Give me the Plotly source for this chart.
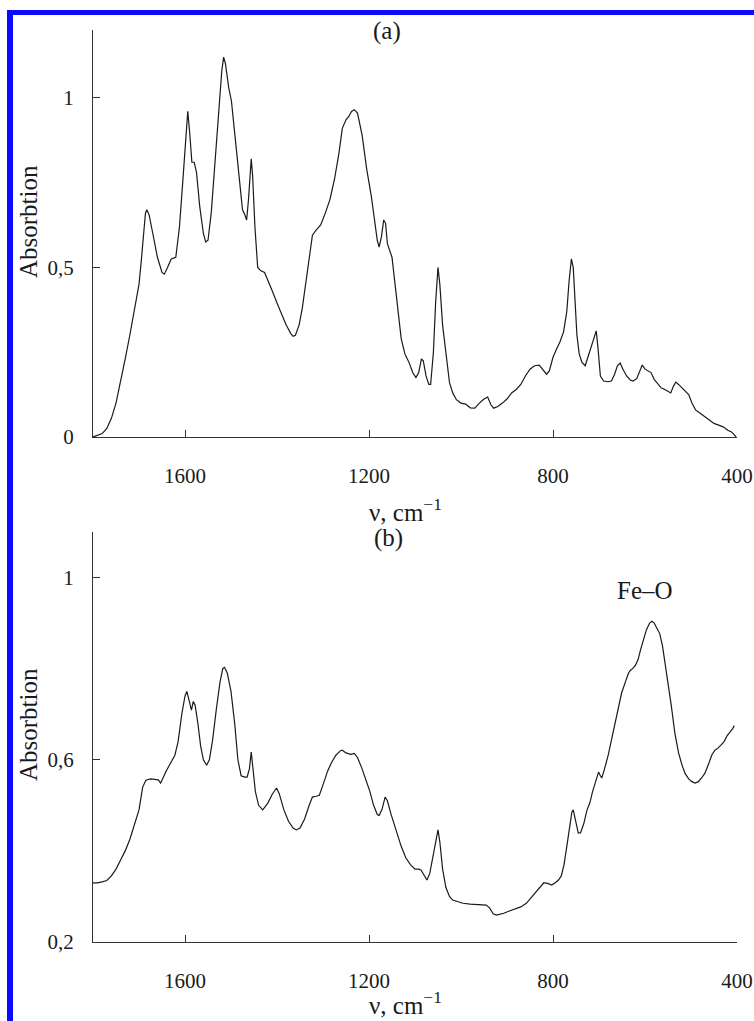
import plotly.graph_objects as go

# ---- Panel (a) spectrum ----
nu_a = [1800, 1790, 1780, 1770, 1760, 1750, 1740, 1730, 1720, 1710, 1700, 1695, 1690, 1686, 1683,
        1678, 1670, 1660, 1650, 1645, 1638, 1630, 1620, 1612, 1605, 1598, 1594, 1590, 1585, 1580,
        1575, 1568, 1560, 1555, 1550, 1543, 1535, 1527, 1520, 1516, 1512, 1505, 1499, 1490, 1480,
        1475, 1470, 1466, 1462, 1458, 1456, 1453, 1448, 1442, 1435, 1427, 1420, 1410, 1400, 1390,
        1380, 1370, 1365, 1360, 1352, 1345, 1338, 1330, 1323, 1315, 1305, 1295, 1285, 1275, 1265,
        1258, 1250, 1244, 1238, 1232, 1225, 1215, 1205, 1195, 1188, 1182, 1178, 1173, 1168, 1164,
        1160, 1155, 1150, 1145, 1138, 1130, 1122, 1113, 1105, 1098, 1092, 1086, 1082, 1076, 1070,
        1066, 1060, 1055, 1050, 1046, 1040, 1033, 1025, 1018, 1010, 1000, 990, 980, 970, 960,
        950, 942, 935, 929, 920, 910, 900, 890, 880, 870, 860, 850, 840, 830, 822,
        814, 808, 800, 792, 785, 777, 770, 765, 760, 756, 752, 748, 743, 737, 730,
        724, 716, 710, 706, 702, 697, 690, 680, 673, 666, 660, 654, 648, 640, 632,
        626, 618, 612, 606, 600, 594, 587, 580, 572, 565, 557, 550, 544, 538, 533,
        527, 520, 512, 505, 498, 490, 480, 470, 460, 450, 440, 430, 420, 412, 405, 402]
abs_a = [0.0, 0.004, 0.01, 0.025, 0.055, 0.10, 0.16, 0.23, 0.30, 0.37, 0.45, 0.52, 0.60, 0.66, 0.67,
         0.655, 0.60, 0.53, 0.485, 0.48, 0.50, 0.525, 0.53, 0.62, 0.75, 0.90, 0.96, 0.90, 0.81, 0.81,
         0.78, 0.68, 0.60, 0.575, 0.58, 0.66, 0.80, 0.96, 1.08, 1.12, 1.10, 1.03, 0.99, 0.87, 0.73,
         0.67, 0.655, 0.64, 0.70, 0.80, 0.82, 0.77, 0.62, 0.50, 0.49, 0.485, 0.46, 0.43, 0.395, 0.36,
         0.33, 0.305, 0.297, 0.30, 0.33, 0.38, 0.45, 0.54, 0.595, 0.61, 0.625, 0.66, 0.70, 0.76, 0.84,
         0.91, 0.935, 0.945, 0.96, 0.965, 0.955, 0.89, 0.79, 0.71, 0.64, 0.58, 0.56, 0.59, 0.64, 0.63,
         0.57, 0.55, 0.53, 0.47, 0.38, 0.29, 0.245, 0.22, 0.19, 0.175, 0.19, 0.23, 0.225, 0.18, 0.155,
         0.155, 0.25, 0.40, 0.50, 0.45, 0.33, 0.25, 0.16, 0.13, 0.11, 0.10, 0.097, 0.086, 0.085, 0.10,
         0.112, 0.118, 0.095, 0.085, 0.09, 0.10, 0.112, 0.13, 0.14, 0.155, 0.18, 0.20, 0.21, 0.212, 0.20,
         0.185, 0.195, 0.235, 0.26, 0.28, 0.31, 0.37, 0.46, 0.525, 0.50, 0.40, 0.30, 0.245, 0.22, 0.21,
         0.235, 0.27, 0.30, 0.313, 0.26, 0.18, 0.165, 0.163, 0.165, 0.185, 0.21, 0.218, 0.20, 0.18, 0.168,
         0.165, 0.172, 0.19, 0.212, 0.20, 0.195, 0.19, 0.17, 0.155, 0.145, 0.14, 0.135, 0.13, 0.15, 0.162,
         0.155, 0.145, 0.135, 0.125, 0.10, 0.08, 0.07, 0.06, 0.05, 0.04, 0.035, 0.03, 0.02, 0.015, 0.005, 0.0]

# ---- Panel (b) spectrum ----
nu_b = [1800, 1790, 1780, 1770, 1760, 1750, 1740, 1730, 1720, 1710, 1700, 1692, 1685, 1675, 1665,
        1658, 1653, 1648, 1640, 1630, 1622, 1615, 1607, 1600, 1596, 1591, 1586, 1582, 1578, 1572,
        1566, 1560, 1553, 1547, 1540, 1532, 1524, 1518, 1514, 1508, 1500, 1492, 1485, 1478, 1470,
        1465, 1460, 1456, 1452, 1447, 1440, 1431, 1420, 1410, 1401, 1395, 1385, 1375, 1365, 1358,
        1350, 1340, 1330, 1323, 1315, 1308, 1300, 1290, 1282, 1272, 1262, 1258, 1250, 1240, 1232,
        1225, 1215, 1206, 1198, 1190, 1182, 1178, 1172, 1165, 1160, 1152, 1141, 1130, 1120, 1110,
        1100, 1092, 1087, 1080, 1074, 1068, 1060, 1055, 1050, 1046, 1040, 1033, 1025, 1018, 1005,
        996, 980, 960, 945, 938, 930, 923, 915, 907, 895, 880, 870, 858, 848, 840,
        830, 820, 810, 803, 795, 788, 782, 776, 770, 764, 759, 756, 752, 745, 740,
        733, 726, 720, 714, 708, 704, 701, 697, 694, 688, 680, 673, 665, 658, 651,
        643, 636, 632, 627, 621, 615, 610, 604, 597, 590, 585, 580, 574, 568, 562,
        556, 550, 543, 535, 527, 520, 513, 505, 498, 491, 484, 477, 470, 462, 455,
        448, 442, 435, 428, 422, 417, 412, 409, 406]
abs_b = [0.33, 0.33, 0.332, 0.335, 0.345, 0.36, 0.38, 0.40, 0.425, 0.455, 0.49, 0.54, 0.555, 0.558, 0.557,
         0.556, 0.549, 0.56, 0.577, 0.595, 0.61, 0.64, 0.70, 0.74, 0.75, 0.73, 0.709, 0.728, 0.72, 0.68,
         0.63, 0.60, 0.588, 0.60, 0.643, 0.71, 0.77, 0.80, 0.803, 0.79, 0.75, 0.68, 0.60, 0.565, 0.562,
         0.562, 0.58, 0.617, 0.58, 0.53, 0.50, 0.49, 0.505, 0.525, 0.538, 0.525, 0.49, 0.465, 0.45, 0.446,
         0.45, 0.47, 0.50, 0.518, 0.52, 0.522, 0.545, 0.575, 0.593, 0.61, 0.62, 0.621, 0.615, 0.612, 0.614,
         0.605, 0.58, 0.555, 0.53, 0.50, 0.48, 0.478, 0.49, 0.518, 0.51, 0.48, 0.446, 0.41, 0.385, 0.37,
         0.36, 0.36, 0.358, 0.345, 0.336, 0.35, 0.39, 0.42, 0.446, 0.42, 0.36, 0.32, 0.30, 0.292, 0.288,
         0.285, 0.283, 0.282, 0.281, 0.275, 0.262, 0.259, 0.261, 0.263, 0.268, 0.273, 0.277, 0.285, 0.297, 0.307,
         0.32, 0.33, 0.328, 0.325, 0.33, 0.336, 0.345, 0.37, 0.41, 0.45, 0.485, 0.49, 0.47, 0.439, 0.44,
         0.46, 0.49, 0.505, 0.53, 0.55, 0.565, 0.573, 0.565, 0.56, 0.58, 0.61, 0.643, 0.68, 0.715, 0.746,
         0.77, 0.79, 0.796, 0.80, 0.807, 0.82, 0.84, 0.862, 0.885, 0.90, 0.904, 0.90, 0.89, 0.877, 0.85,
         0.81, 0.775, 0.72, 0.658, 0.615, 0.59, 0.57, 0.558, 0.552, 0.549, 0.552, 0.56, 0.57, 0.59, 0.61,
         0.621, 0.625, 0.632, 0.64, 0.652, 0.66, 0.665, 0.669, 0.675]

x_ticks = [1600, 1200, 800, 400]
x_ticktext = ["1600", "1200", "800", "400"]
ya_ticks = [0, 0.5, 1]
ya_ticktext = ["0", "0,5", "1"]
yb_ticks = [0.2, 0.6, 1.0]
yb_ticktext = ["0,2", "0,6", "1"]

W, H = 754, 1021
FONT = "Liberation Serif, Times New Roman, serif"
INK = "#1a1a1a"

def px_x(p):
    return p / W

def px_y(p):
    return 1 - p / H

fig = go.Figure()
fig.add_trace(go.Scatter(x=nu_a, y=abs_a, mode="lines", line=dict(color=INK, width=1.2),
                         xaxis="x", yaxis="y", showlegend=False, hoverinfo="skip"))
fig.add_trace(go.Scatter(x=nu_b, y=abs_b, mode="lines", line=dict(color=INK, width=1.2),
                         xaxis="x2", yaxis="y2", showlegend=False, hoverinfo="skip"))

xdom = [px_x(93), px_x(737)]
common_x = dict(range=[1800, 400], showline=True, linecolor="#333", linewidth=1, mirror=False,
                showgrid=False, zeroline=False, ticks="inside", ticklen=7, tickwidth=1, tickcolor="#333",
                tickvals=x_ticks, ticktext=x_ticktext, tickfont=dict(family=FONT, size=21, color=INK),
                ticklabelstandoff=20, domain=xdom, automargin=False)
common_y = dict(showline=True, linecolor="#333", linewidth=1, mirror=False, showgrid=False,
                zeroline=False, ticks="inside", ticklen=7, tickwidth=1, tickcolor="#333",
                tickfont=dict(family=FONT, size=21, color=INK), ticklabelstandoff=14,
                automargin=False)

fig.update_layout(
    template="none",
    width=W, height=H, margin=dict(l=0, r=0, t=0, b=0, pad=0, autoexpand=False),
    paper_bgcolor="white", plot_bgcolor="white",
    xaxis=dict(**common_x, anchor="y"),
    yaxis=dict(**common_y, range=[0, 1.2], tickvals=ya_ticks, ticktext=ya_ticktext,
               domain=[px_y(437), px_y(30)], anchor="x"),
    xaxis2=dict(**common_x, anchor="y2"),
    yaxis2=dict(**common_y, range=[0.2, 1.1], tickvals=yb_ticks, ticktext=yb_ticktext,
                domain=[px_y(942), px_y(532)], anchor="x2"),
)

tf = dict(family=FONT, size=25, color=INK)
ann = [
    dict(text="(a)", x=px_x(387), y=px_y(31), xref="paper", yref="paper", showarrow=False,
         font=tf, xanchor="center", yanchor="middle"),
    dict(text="(b)", x=px_x(388), y=px_y(538), xref="paper", yref="paper", showarrow=False,
         font=tf, xanchor="center", yanchor="middle"),
    dict(text="ν, cm<sup>−1</sup>", x=px_x(405), y=px_y(510), xref="paper", yref="paper",
         showarrow=False, font=tf, xanchor="center", yanchor="middle"),
    dict(text="ν, cm<sup>−1</sup>", x=px_x(405), y=0.0, xref="paper", yref="paper",
         showarrow=False, font=tf, xanchor="center", yanchor="bottom"),
    dict(text="Absorbtion", x=px_x(28), y=px_y(222), xref="paper", yref="paper", showarrow=False,
         font=tf, textangle=-90, xanchor="center", yanchor="middle"),
    dict(text="Absorbtion", x=px_x(28), y=px_y(725), xref="paper", yref="paper", showarrow=False,
         font=tf, textangle=-90, xanchor="center", yanchor="middle"),
    dict(text="Fe–O", x=600, y=0.972, xref="x2", yref="y2", showarrow=False,
         font=tf, xanchor="center", yanchor="middle"),
]
fig.update_layout(annotations=ann)

blue = "#0a0aff"
fig.update_layout(shapes=[
    dict(type="rect", xref="paper", yref="paper", x0=px_x(7), x1=1.0, y0=px_y(15), y1=px_y(10),
         fillcolor=blue, line=dict(width=0), layer="above"),
    dict(type="rect", xref="paper", yref="paper", x0=px_x(7), x1=px_x(13), y0=0.0, y1=px_y(10),
         fillcolor=blue, line=dict(width=0), layer="above"),
])

fig.write_html("out.html")
